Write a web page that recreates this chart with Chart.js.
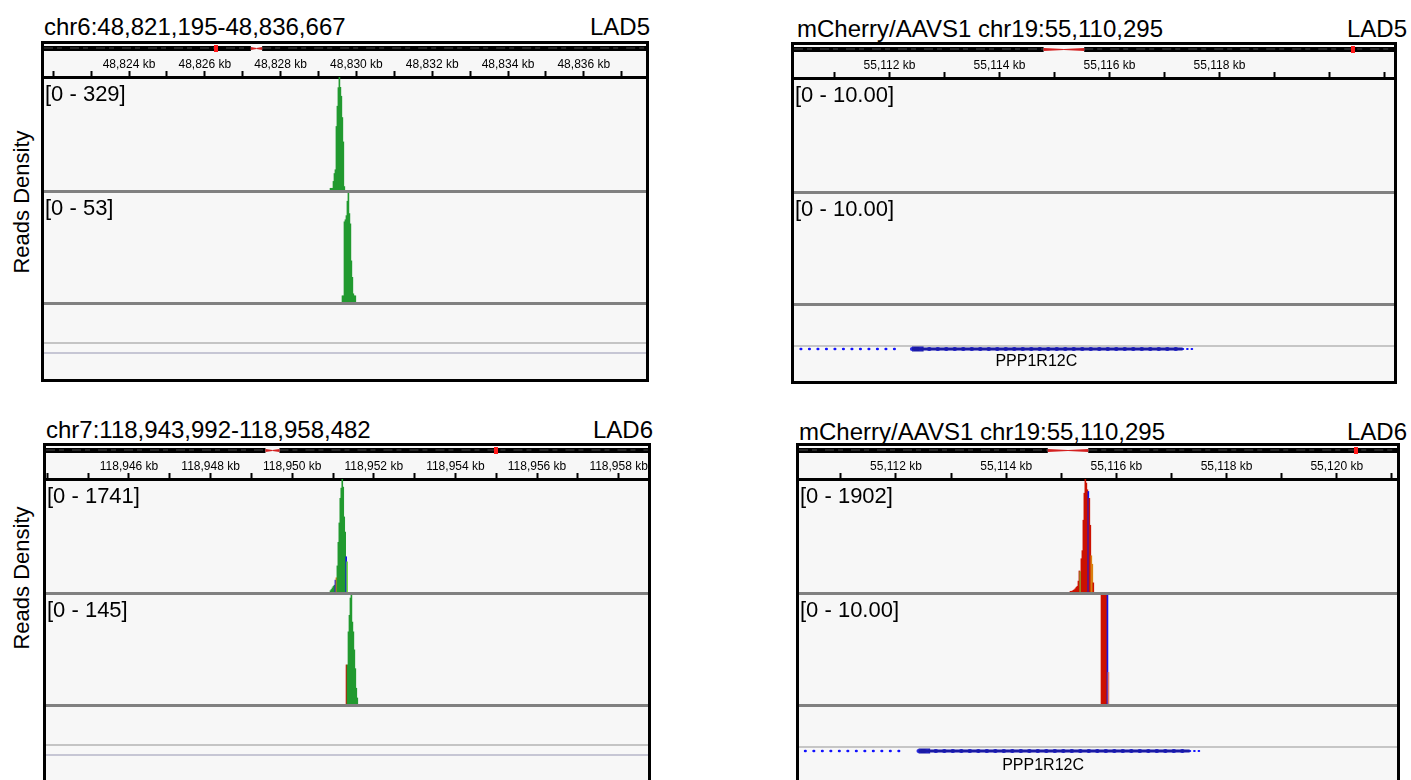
<!DOCTYPE html>
<html>
<head>
<meta charset="utf-8">
<title>Reads density at LAD5 / LAD6 and mCherry/AAVS1</title>
<script src="https://cdn.jsdelivr.net/npm/chart.js@4.4.1/dist/chart.umd.min.js"></script>
<style>
  html, body { margin:0; padding:0; background:#fff; }
  body { width:1411px; height:780px; position:relative; overflow:hidden;
         font-family:"Liberation Sans", Arial, Helvetica, sans-serif; color:#000; }
  .title, .tag { position:absolute; font-size:24px; line-height:24px; white-space:nowrap; }
  .tag { text-align:right; width:200px; }
  .box { position:absolute; box-sizing:border-box; border:3px solid #000; background:#f7f7f7; overflow:hidden; }
  .rule { position:absolute; left:0; right:0; }
  .ylab { position:absolute; width:240px; height:22px; font-size:22px; line-height:22px;
          text-align:center; white-space:nowrap; transform:rotate(-90deg); }
  canvas { position:absolute; display:block; }
</style>
</head>
<body>
<script>
// ---------------- chr6 window (LAD5) ----------------
const chr6Title = 'chr6:48,821,195-48,836,667';
const chr6Tag = 'LAD5';
const chr6WindowKb = [48821.757, 48837.641];
const chr6LabelKb = [48824, 48826, 48828, 48830, 48832, 48834, 48836];
const chr6Labels = ['48,824 kb', '48,826 kb', '48,828 kb', '48,830 kb', '48,832 kb', '48,834 kb', '48,836 kb'];
const chr6TickKb = [48822, 48823, 48824, 48825, 48826, 48827, 48828, 48829, 48830, 48831, 48832, 48833, 48834, 48835, 48836, 48837];
const chr6Range = [329, 53];
const chr6StartBp = [48829317, 48829633];
const chr6BinBp = 26;
const chr6Cov1 = [5, 5, 5, 25, 48, 59, 185, 244, 298, 329, 299, 273, 211, 140, 10];
const chr6Base1 = 'AAAAAAAAAAAAAAA';
const chr6Cov2 = [3, 3, 39, 40, 42, 49, 53, 43, 38, 20, 12, 4, 3, 3];
const chr6Base2 = 'AAAAAAAAAAAAAA';
const chr6LengthMb = 171.1;
const chr6CentromereMb = [58.8, 62.0];
const chr6ViewMb = 48.829;

// ---------------- chr7 window (LAD6) ----------------
const chr7Title = 'chr7:118,943,992-118,958,482';
const chr7Tag = 'LAD6';
const chr7WindowKb = [118943.966, 118958.72];
const chr7LabelKb = [118946, 118948, 118950, 118952, 118954, 118956, 118958];
const chr7Labels = ['118,946 kb', '118,948 kb', '118,950 kb', '118,952 kb', '118,954 kb', '118,956 kb', '118,958 kb'];
const chr7TickKb = [118944, 118945, 118946, 118947, 118948, 118949, 118950, 118951, 118952, 118953, 118954, 118955, 118956, 118957, 118958];
const chr7Range = [1741, 145];
const chr7StartBp = [118950939, 118951331];
const chr7BinBp = 24;
const chr7Cov1 = [20, 39, 63, 86, 105, 183, 219, 402, 766, 1064, 1444, 1600, 1741, 1616, 1157, 923, 543, 465];
const chr7Base1 = 'AAAAACGAAAAAAAAACa';
const chr7Cov2 = [52, 52, 96, 118, 141, 145, 109, 96, 72, 47, 21, 8];
const chr7Base2 = 'TAAAAAAAAAAA';
const chr7LengthMb = 159.1;
const chr7CentromereMb = [58.0, 61.7];
const chr7ViewMb = 118.951;

// ---------------- mCherry/AAVS1 on chr19 ----------------
const aavsTitle = 'mCherry/AAVS1 chr19:55,110,295';
const aavsTag5 = 'LAD5';
const aavsTag6 = 'LAD6';
const aavsWindow5Kb = [55110.264, 55121.173];
const aavsWindow6Kb = [55110.240, 55121.093];
const aavsLabel5Kb = [55112, 55114, 55116, 55118];
const aavsLabels5 = ['55,112 kb', '55,114 kb', '55,116 kb', '55,118 kb'];
const aavsLabel6Kb = [55112, 55114, 55116, 55118, 55120];
const aavsLabels6 = ['55,112 kb', '55,114 kb', '55,116 kb', '55,118 kb', '55,120 kb'];
const aavsTickKb = [55111, 55112, 55113, 55114, 55115, 55116, 55117, 55118, 55119, 55120, 55121];
const aavsRange5 = [10, 10];
const aavsRange6 = [1902, 10];
const aavsStart6Bp = [55115167, 55115730];
const aavsBinBp = 18;
const aavsCov5a = [];
const aavsCov5b = [];
const aavsCov6a = [12, 12, 17, 29, 40, 57, 80, 97, 183, 354, 342, 560, 696, 1208, 1663, 1902, 1834, 1721, 1692, 1577, 1123, 610, 467, 154];
const aavsBase6a = 'TTTTTTTTTTaTTTTTTTCTTGGT';
const aavsCov6b = [10, 10, 10, 10, 10, 10, 10, 2.9];
const aavsBase6b = 'TTTTTTCt';
const chr19LengthMb = 59.13;
const chr19CentromereMb = [24.6, 28.6];
const chr19ViewMb = 55.11;

// PPP1R12C model in the AAVS1 window (kb)
const geneName = 'PPP1R12C';
const geneArrowKb = [55090.913, 55112.2];
const geneExonKb = [55112.41, 55112.62];
const geneBodyKb = [55112.41, 55117.33];
const geneTailKb = [55117.33, 55117.52];

const yAxisTitle = 'Reads Density';

// ---------------- drawing ----------------
const FONT = '"Liberation Sans", Arial, Helvetica, sans-serif';
Chart.defaults.font.family = FONT;
Chart.defaults.color = '#000';

const BASE = { A: '#229a30', C: '#1414e6', G: '#d9800f', T: '#cc1100' };
const BASE_LOWQ = { A: '#72e03c', C: '#6a6aff', G: '#f0b35e', T: '#e5806a' };
function baseColour(b) { return b === b.toUpperCase() ? BASE[b] : BASE_LOWQ[b.toUpperCase()]; }
function binPoints(startBp, binBp, cov) { return cov.map((v, i) => ({ x: (startBp + i * binBp) / 1000, y: v })); }
function rangeText(max) { return '[0 - ' + (max > 10 ? String(max) : max.toFixed(2)) + ']'; }

// chromosome ideogram strip above the ruler
function makeIdeogram(ideo) {
  return {
    id: 'ideogram',
    afterDraw(chart) {
      const ctx = chart.ctx, left = chart.chartArea.left, right = chart.chartArea.right;
      const px = mb => left + (mb / ideo.lengthMb) * (right - left);
      const y = 2, h = 5, c0 = px(ideo.cenMb[0]), c1 = px(ideo.cenMb[1]), cm = (c0 + c1) / 2, ym = y + h / 2;
      ctx.save();
      ctx.fillStyle = '#000';
      ctx.fillRect(left, y, c0 - left, h);
      ctx.fillRect(c1, y, right - c1, h);
      ctx.strokeStyle = 'rgba(120,120,120,0.6)';
      ctx.lineWidth = 1;
      ctx.setLineDash([9, 4, 5, 8]);
      ctx.beginPath();
      ctx.moveTo(left, y + 2); ctx.lineTo(c0, y + 2);
      ctx.moveTo(c1, y + 2); ctx.lineTo(right, y + 2);
      ctx.stroke();
      ctx.setLineDash([]);
      ctx.fillStyle = '#d42020';
      ctx.beginPath(); ctx.moveTo(c0, y + 1); ctx.lineTo(cm, ym - 0.5); ctx.lineTo(cm, ym + 0.5); ctx.lineTo(c0, y + h - 1); ctx.closePath(); ctx.fill();
      ctx.beginPath(); ctx.moveTo(c1, y + 1); ctx.lineTo(cm, ym - 0.5); ctx.lineTo(cm, ym + 0.5); ctx.lineTo(c1, y + h - 1); ctx.closePath(); ctx.fill();
      ctx.fillStyle = '#ff1a1a';
      ctx.fillRect(Math.round(px(ideo.viewMb)) - 2, y - 1, 4, h + 2);
      ctx.restore();
    }
  };
}

const rangeLabelPlugin = {
  id: 'rangeLabel',
  afterDatasetsDraw(chart, _a, o) {
    if (!o || !o.text) return;
    const ctx = chart.ctx, area = chart.chartArea;
    ctx.save();
    ctx.font = '22px ' + FONT;
    ctx.fillStyle = '#000';
    ctx.textBaseline = 'top';
    ctx.textAlign = 'left';
    ctx.fillText(o.text, area.left + 1, area.top + o.dy);
    ctx.restore();
  }
};

const geneLabelPlugin = {
  id: 'geneLabel',
  afterDatasetsDraw(chart, _a, o) {
    if (!o || !o.text) return;
    const ctx = chart.ctx;
    const x = chart.scales.x.getPixelForValue(o.kb);
    const y = chart.scales.y.getPixelForValue(o.row);
    ctx.save();
    ctx.font = '16px ' + FONT;
    ctx.fillStyle = '#000';
    ctx.textAlign = 'center';
    ctx.textBaseline = 'middle';
    ctx.fillText(o.text, x, y);
    ctx.restore();
  }
};

function el(tag, cls, parent, text) {
  const e = document.createElement(tag);
  if (cls) e.className = cls;
  if (text !== undefined) e.textContent = text;
  (parent || document.body).appendChild(e);
  return e;
}
function place(e, x, y, w, h) {
  e.style.left = x + 'px'; e.style.top = y + 'px';
  if (w !== undefined) e.style.width = w + 'px';
  if (h !== undefined) e.style.height = h + 'px';
}
function canvasIn(parent, x, y, w, h) {
  const c = el('canvas', null, parent);
  c.width = w; c.height = h;
  place(c, x, y, w, h);
  return c;
}

function coverageDataset(points, bases) {
  return {
    data: points,
    backgroundColor: bases.split('').map(baseColour),
    borderWidth: 0,
    barPercentage: 1,
    categoryPercentage: 1,
    clip: 0
  };
}

function commonOptions() {
  return {
    responsive: false,
    maintainAspectRatio: false,
    animation: false,
    events: [],
    devicePixelRatio: 1
  };
}

function buildPanel(p) {
  const title = el('div', 'title', null, p.title);
  place(title, p.titleX, p.titleBase - 20);
  const tag = el('div', 'tag', null, p.tag);
  place(tag, p.tagRight - 200, p.titleBase - 20);

  const box = el('div', 'box');
  place(box, p.box.x, p.box.y, p.box.w, p.box.h);
  const iw = p.box.w - 6, ih = p.box.h - 6;
  const r = p.rows;

  const labelMap = new Map(p.labelKb.map((v, i) => [v, p.labels[i]]));

  // ruler (ticks every kb, labels every 2 kb) + first coverage track
  const topCanvas = canvasIn(box, 0, 0, iw, r.g1 - 3);
  new Chart(topCanvas, {
    type: 'bar',
    data: { datasets: [coverageDataset(p.tracks[0].points, p.tracks[0].bases)] },
    options: Object.assign(commonOptions(), {
      layout: { padding: { top: r.rulerTop, left: 0, right: 0, bottom: 0 } },
      plugins: {
        legend: { display: false }, tooltip: { enabled: false },
        rangeLabel: { text: rangeText(p.ranges[0]), dy: r.labelDy }
      },
      scales: {
        x: {
          type: 'linear', position: 'top', min: p.windowKb[0], max: p.windowKb[1], offset: false,
          afterBuildTicks(s) { s.ticks = p.tickKb.map(v => ({ value: v })); },
          afterFit(s) { s.height = r.rulerH; s.paddingLeft = 0; s.paddingRight = 0; },
          ticks: {
            autoSkip: false, maxRotation: 0, minRotation: 0, padding: 0, color: '#000',
            font: { size: 12, lineHeight: 1 },
            callback: v => labelMap.get(v) || ''
          },
          grid: { display: true, drawOnChartArea: false, drawTicks: true, tickLength: 6,
                  tickWidth: 2, tickColor: '#000', color: '#000', offset: false },
          border: { display: true, color: '#000', width: 3 }
        },
        y: { display: false, min: 0, max: p.ranges[0] }
      }
    }),
    plugins: [makeIdeogram(p.ideo), rangeLabelPlugin]
  });

  const sep1 = el('div', 'rule', box); place(sep1, 0, r.g1 - 3, undefined, 3); sep1.style.background = '#808080';

  // second coverage track
  const midCanvas = canvasIn(box, 0, r.g1, iw, r.g2 - 3 - r.g1);
  new Chart(midCanvas, {
    type: 'bar',
    data: { datasets: [coverageDataset(p.tracks[1].points, p.tracks[1].bases)] },
    options: Object.assign(commonOptions(), {
      layout: { padding: 0 },
      plugins: {
        legend: { display: false }, tooltip: { enabled: false },
        rangeLabel: { text: rangeText(p.ranges[1]), dy: r.labelDy2 }
      },
      scales: {
        x: { type: 'linear', display: false, min: p.windowKb[0], max: p.windowKb[1], offset: false },
        y: { display: false, min: 0, max: p.ranges[1] }
      }
    }),
    plugins: [rangeLabelPlugin]
  });

  const sep2 = el('div', 'rule', box); place(sep2, 0, r.g2 - 3, undefined, 3); sep2.style.background = '#808080';

  r.lines.forEach(([y, col]) => {
    const ln = el('div', 'rule', box); place(ln, 0, y - 3, undefined, 2); ln.style.background = col;
  });

  // feature track
  if (p.gene) {
    const gh = ih - r.g2;
    const gCanvas = canvasIn(box, 0, r.g2, iw, gh);
    const row = p.gene.row - 3 - r.g2;
    const seg = kb => [{ x: kb[0], y: row }, { x: kb[1], y: row }];
    new Chart(gCanvas, {
      type: 'line',
      data: {
        datasets: [
          { data: seg(geneArrowKb), borderColor: '#1010ff', borderWidth: 2.6, borderDash: [0.5, 8], borderCapStyle: 'round', pointRadius: 0 },
          { data: seg(geneBodyKb), borderColor: '#1a1aa6', borderWidth: 3.2, borderCapStyle: 'butt', pointRadius: 0 },
          { data: seg(geneBodyKb), borderColor: '#2a2ae0', borderWidth: 4.2, borderDash: [0.5, 8], borderCapStyle: 'round', pointRadius: 0 },
          { data: seg(geneExonKb), borderColor: '#1a1aa6', borderWidth: 5, borderCapStyle: 'butt', pointRadius: 0 },
          { data: seg(geneTailKb), borderColor: '#1010ff', borderWidth: 2.2, borderDash: [0.5, 4], borderCapStyle: 'round', pointRadius: 0 }
        ]
      },
      options: Object.assign(commonOptions(), {
        layout: { padding: 0 },
        plugins: {
          legend: { display: false }, tooltip: { enabled: false },
          geneLabel: { text: geneName, kb: p.gene.labelKb, row: p.gene.label - 3 - r.g2 }
        },
        scales: {
          x: { type: 'linear', display: false, min: p.windowKb[0], max: p.windowKb[1] },
          y: { display: false, min: 0, max: gh, reverse: true }
        }
      }),
      plugins: [geneLabelPlugin]
    });
  }
}

const leftRows = { rulerTop: 11, rulerH: 22, labelDy: 7, labelDy2: 5, g1: 149, g2: 261,
                   lines: [[301, '#c4c4c4'], [311, '#c6c6d4']] };
const rightRows = { rulerTop: 11, rulerH: 22, labelDy: 7, labelDy2: 5, g1: 149, g2: 261,
                    lines: [[303, '#c6c6c6']] };

const panels = [
  { title: chr6Title, tag: chr6Tag, titleX: 44, titleBase: 35, tagRight: 650,
    box: { x: 41, y: 41, w: 608, h: 341 }, rows: leftRows,
    windowKb: chr6WindowKb, labelKb: chr6LabelKb, labels: chr6Labels, tickKb: chr6TickKb, ranges: chr6Range,
    tracks: [{ points: binPoints(chr6StartBp[0], chr6BinBp, chr6Cov1), bases: chr6Base1 },
             { points: binPoints(chr6StartBp[1], chr6BinBp, chr6Cov2), bases: chr6Base2 }],
    ideo: { lengthMb: chr6LengthMb, cenMb: chr6CentromereMb, viewMb: chr6ViewMb }, gene: null },
  { title: aavsTitle, tag: aavsTag5, titleX: 797, titleBase: 37, tagRight: 1407,
    box: { x: 791, y: 42, w: 606, h: 342 }, rows: rightRows,
    windowKb: aavsWindow5Kb, labelKb: aavsLabel5Kb, labels: aavsLabels5, tickKb: aavsTickKb, ranges: aavsRange5,
    tracks: [{ points: binPoints(aavsStart6Bp[0], aavsBinBp, aavsCov5a), bases: '' },
             { points: binPoints(aavsStart6Bp[1], aavsBinBp, aavsCov5b), bases: '' }],
    ideo: { lengthMb: chr19LengthMb, cenMb: chr19CentromereMb, viewMb: chr19ViewMb },
    gene: { row: 307, label: 320, labelKb: 55114.67 } },
  { title: chr7Title, tag: chr7Tag, titleX: 46, titleBase: 438, tagRight: 653,
    box: { x: 43, y: 443, w: 608, h: 400 }, rows: leftRows,
    windowKb: chr7WindowKb, labelKb: chr7LabelKb, labels: chr7Labels, tickKb: chr7TickKb, ranges: chr7Range,
    tracks: [{ points: binPoints(chr7StartBp[0], chr7BinBp, chr7Cov1), bases: chr7Base1 },
             { points: binPoints(chr7StartBp[1], chr7BinBp, chr7Cov2), bases: chr7Base2 }],
    ideo: { lengthMb: chr7LengthMb, cenMb: chr7CentromereMb, viewMb: chr7ViewMb }, gene: null },
  { title: aavsTitle, tag: aavsTag6, titleX: 799, titleBase: 440, tagRight: 1407,
    box: { x: 796, y: 443, w: 604, h: 400 }, rows: rightRows,
    windowKb: aavsWindow6Kb, labelKb: aavsLabel6Kb, labels: aavsLabels6, tickKb: aavsTickKb, ranges: aavsRange6,
    tracks: [{ points: binPoints(aavsStart6Bp[0], aavsBinBp, aavsCov6a), bases: aavsBase6a },
             { points: binPoints(aavsStart6Bp[1], aavsBinBp, aavsCov6b), bases: aavsBase6b }],
    ideo: { lengthMb: chr19LengthMb, cenMb: chr19CentromereMb, viewMb: chr19ViewMb },
    gene: { row: 308, label: 323, labelKb: 55114.67 } }
];

panels.forEach(buildPanel);

[202, 578].forEach(cy => {
  const lab = el('div', 'ylab', null, yAxisTitle);
  place(lab, 22 - 120, cy - 11);
});
</script>
</body>
</html>
